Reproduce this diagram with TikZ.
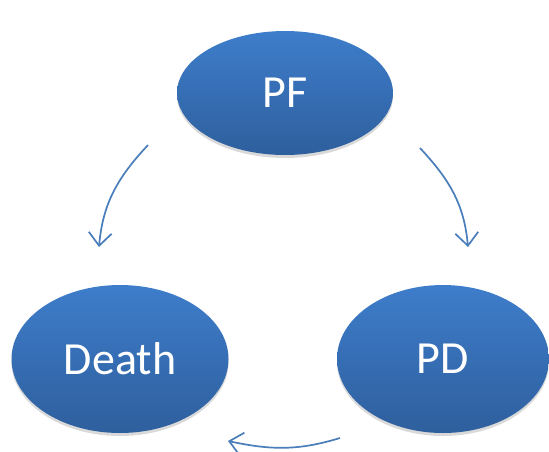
\documentclass[tikz,border=0pt]{standalone}
\usepackage{fontspec}
\setmainfont{Carlito}
\usetikzlibrary{arrows.meta,shapes.geometric,shadows}

\definecolor{ovaltop}{HTML}{3E7DCB}
\definecolor{ovalbot}{HTML}{2E5F9D}
\definecolor{arrowblue}{HTML}{4A7EBB}

\begin{document}
\begin{tikzpicture}[x=1pt,y=-1pt,
    state/.style={ellipse, inner sep=0pt, top color=ovaltop, bottom color=ovalbot,
        draw=none, text=white, font=\fontsize{46}{46}\selectfont,
        drop shadow={shadow xshift=0pt, shadow yshift=-3pt, opacity=0.15, fill=black}},
    trans/.style={draw=arrowblue, line width=1.7pt,
        -{Straight Barb[length=13pt, width=23pt, line width=1.7pt]}}]

    \useasboundingbox (0,0) rectangle (549,451);

    % States
    \node[state, minimum width=216pt, minimum height=124pt] (PF) at (285,93) {PF};
    \node[state, minimum width=217pt, minimum height=148pt] (Death) at (120,359) {Death};
    \node[state, minimum width=212pt, minimum height=148pt] (PD) at (443,359) {PD};

    % Free ends of the transitions
    \coordinate (pfl) at (148,145);
    \coordinate (dth) at (99,247);
    \coordinate (pfr) at (420,148);
    \coordinate (pdt) at (468,247);
    \coordinate (pdb) at (340,438);
    \coordinate (dtb) at (228,441);

    % Transitions
    \draw[trans] (pfl) to[out=-133, in=85] (dth);
    \draw[trans] (pfr) to[out=-47, in=95] (pdt);
    \draw[trans] (pdb) to[out=-163, in=-12] (dtb);

\end{tikzpicture}
\end{document}
